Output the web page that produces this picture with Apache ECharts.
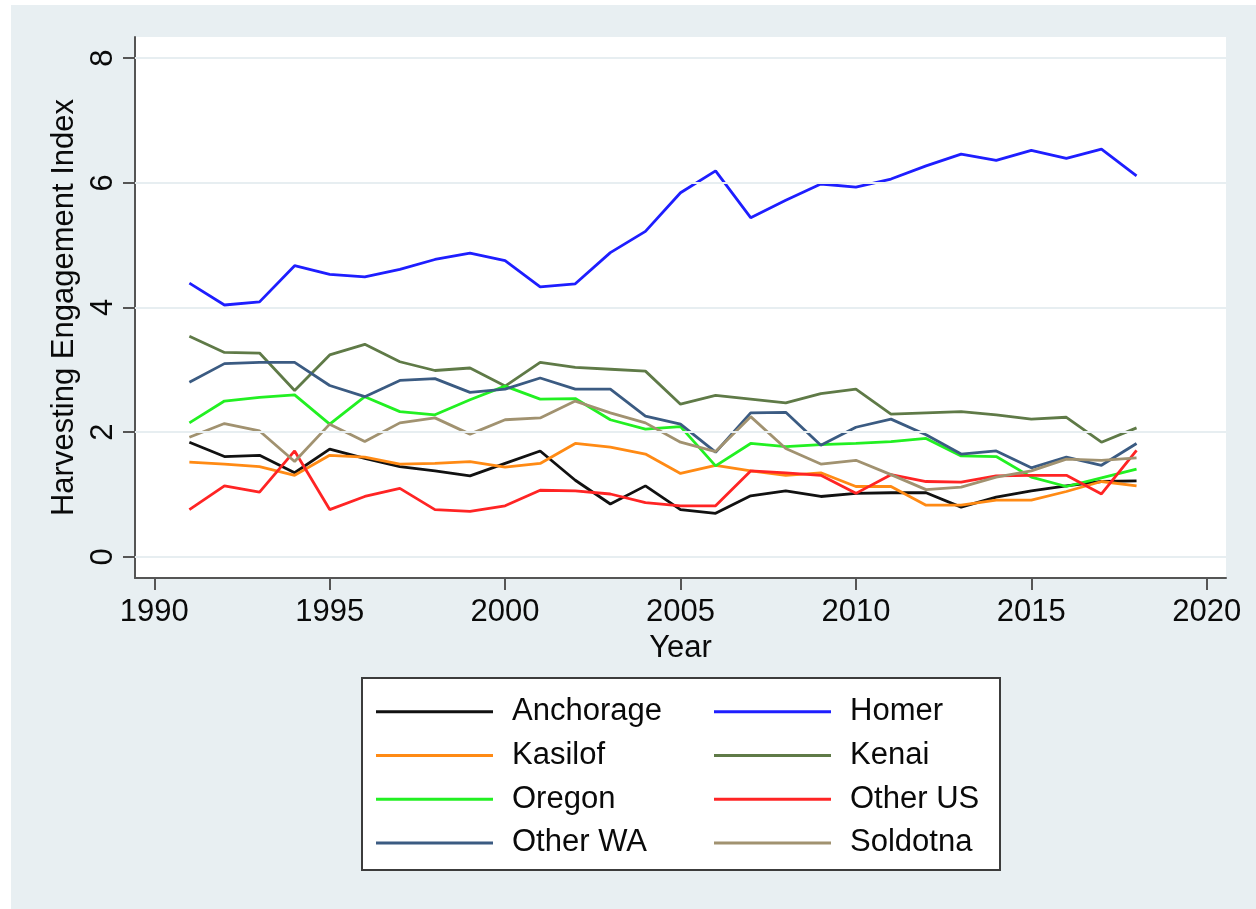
<!DOCTYPE html>
<html>
<head>
<meta charset="utf-8">
<script src="https://cdn.jsdelivr.net/npm/echarts@6/dist/echarts.min.js"></script>
<style>
  html, body { margin: 0; padding: 0; background: #ffffff; }
  #chart { width: 1256px; height: 909px; }
</style>
</head>
<body>
<div id="chart"></div>
<script>
// Harvesting engagement index by residence area, 1991-2018
const years = [1991,1992,1993,1994,1995,1996,1997,1998,1999,2000,2001,2002,2003,2004,
               2005,2006,2007,2008,2009,2010,2011,2012,2013,2014,2015,2016,2017,2018];

const anchorage = [1.84,1.61,1.63,1.35,1.73,1.58,1.45,1.38,1.30,1.50,1.70,1.23,0.85,1.14,
                   0.76,0.70,0.98,1.06,0.97,1.02,1.03,1.03,0.80,0.96,1.06,1.14,1.21,1.22];
const homer     = [4.39,4.04,4.09,4.67,4.53,4.49,4.61,4.77,4.87,4.75,4.33,4.38,4.88,5.22,
                   5.84,6.19,5.44,5.72,5.98,5.93,6.06,6.27,6.46,6.36,6.52,6.39,6.54,6.11];
const kasilof   = [1.52,1.49,1.45,1.31,1.63,1.60,1.49,1.50,1.53,1.44,1.50,1.82,1.76,1.65,
                   1.34,1.47,1.38,1.31,1.35,1.13,1.13,0.83,0.83,0.91,0.91,1.05,1.21,1.14];
const kenai     = [3.54,3.28,3.27,2.67,3.24,3.41,3.13,2.99,3.03,2.74,3.12,3.04,3.01,2.98,
                   2.45,2.59,2.53,2.47,2.62,2.69,2.29,2.31,2.33,2.28,2.21,2.24,1.84,2.07];
const oregon    = [2.15,2.50,2.56,2.60,2.13,2.57,2.33,2.28,2.52,2.74,2.53,2.54,2.20,2.05,
                   2.09,1.46,1.82,1.77,1.80,1.82,1.85,1.90,1.62,1.61,1.28,1.13,1.27,1.41];
const otherUS   = [0.76,1.14,1.04,1.70,0.76,0.97,1.10,0.76,0.73,0.82,1.07,1.06,1.01,0.87,
                   0.82,0.82,1.38,1.35,1.31,1.02,1.32,1.21,1.20,1.30,1.31,1.31,1.01,1.71];
const otherWA   = [2.80,3.10,3.12,3.12,2.75,2.57,2.83,2.86,2.64,2.69,2.87,2.69,2.69,2.26,
                   2.13,1.68,2.31,2.32,1.79,2.08,2.21,1.96,1.65,1.70,1.43,1.60,1.47,1.82];
const soldotna  = [1.92,2.14,2.02,1.53,2.13,1.85,2.15,2.23,1.97,2.20,2.23,2.50,2.31,2.15,
                   1.84,1.69,2.25,1.74,1.49,1.55,1.32,1.08,1.12,1.28,1.38,1.57,1.55,1.59];

const xTicks = [1990, 1995, 2000, 2005, 2010, 2015, 2020];
const yTicks = [0, 2, 4, 6, 8];

const seriesDefs = [
  { name: 'Anchorage', data: anchorage, color: '#111111' },
  { name: 'Homer',     data: homer,     color: '#1e1eff' },
  { name: 'Kasilof',   data: kasilof,   color: '#ff8a14' },
  { name: 'Kenai',     data: kenai,     color: '#5f7a47' },
  { name: 'Oregon',    data: oregon,    color: '#22f022' },
  { name: 'Other US',  data: otherUS,   color: '#ff2424' },
  { name: 'Other WA',  data: otherWA,   color: '#3b5b82' },
  { name: 'Soldotna',  data: soldotna,  color: '#a19270' }
];

const FONT = '"Liberation Sans", Arial, sans-serif';
const FS = 31;
const textColor = '#0a0a0a';

const lineSeries = seriesDefs.map(s => ({
  name: s.name,
  type: 'line',
  z: 3,
  symbol: 'none',
  silent: true,
  data: years.map((y, i) => [y, s.data[i]]),
  lineStyle: { color: s.color, width: 2.8 },
  itemStyle: { color: s.color }
}));

// horizontal reference lines at the y tick values
const gridSeries = {
  name: '_grid',
  type: 'line',
  z: 1,
  data: [],
  silent: true,
  markLine: {
    silent: true,
    symbol: 'none',
    label: { show: false },
    lineStyle: { color: '#e7eef1', width: 2, type: 'solid' },
    data: yTicks.map(v => ({ yAxis: v }))
  }
};

const legendCommon = {
  orient: 'vertical',
  icon: 'rect',
  itemWidth: 117,
  itemHeight: 3,
  itemGap: 12,
  selectedMode: false,
  textStyle: {
    fontFamily: FONT,
    fontSize: FS,
    color: textColor,
    lineHeight: 31.7,
    padding: [0, 0, 0, 14]
  }
};

const chart = echarts.init(document.getElementById('chart'), null, { renderer: 'canvas' });

chart.setOption({
  backgroundColor: '#ffffff',
  animation: false,
  graphic: [
    {
      type: 'rect',
      z: -10,
      shape: { x: 11, y: 5, width: 1245, height: 904 },
      style: { fill: '#e8eff2' }
    },
    {
      type: 'rect',
      z: -5,
      shape: { x: 362, y: 678, width: 638, height: 192 },
      style: { fill: '#ffffff', stroke: '#3c3c3c', lineWidth: 2 }
    }
  ],
  grid: {
    left: 135,
    right: 30,
    top: 37,
    bottom: 331,
    show: true,
    backgroundColor: '#ffffff',
    borderWidth: 0
  },
  xAxis: {
    type: 'value',
    min: 1989.45,
    max: 2020.55,
    name: 'Year',
    nameLocation: 'middle',
    nameGap: 53,
    nameTextStyle: { fontFamily: FONT, fontSize: FS, color: textColor },
    axisLine: { show: true, onZero: false, lineStyle: { color: '#555555', width: 2 } },
    axisTick: { show: true, length: 12, customValues: xTicks, lineStyle: { color: '#555555', width: 2 } },
    axisLabel: {
      customValues: xTicks,
      margin: 19,
      fontFamily: FONT,
      fontSize: FS,
      color: textColor,
      formatter: v => String(Math.round(v))
    },
    splitLine: { show: false }
  },
  yAxis: {
    type: 'value',
    min: -0.337,
    max: 8.337,
    name: 'Harvesting Engagement Index',
    nameLocation: 'middle',
    nameGap: 54,
    nameRotate: 90,
    nameTextStyle: { fontFamily: FONT, fontSize: FS, color: textColor },
    axisLine: { show: true, lineStyle: { color: '#555555', width: 2 } },
    axisTick: { show: true, length: 12, customValues: yTicks, lineStyle: { color: '#555555', width: 2 } },
    axisLabel: {
      customValues: yTicks,
      rotate: 90,
      margin: 16,
      fontFamily: FONT,
      fontSize: FS,
      color: textColor,
      formatter: v => String(Math.round(v))
    },
    splitLine: { show: false }
  },
  legend: [
    Object.assign({}, legendCommon, {
      left: 371, top: 691,
      data: ['Anchorage', 'Kasilof', 'Oregon', 'Other WA']
    }),
    Object.assign({}, legendCommon, {
      left: 709, top: 691,
      data: ['Homer', 'Kenai', 'Other US', 'Soldotna']
    })
  ],
  series: [gridSeries].concat(lineSeries)
});
</script>
</body>
</html>
